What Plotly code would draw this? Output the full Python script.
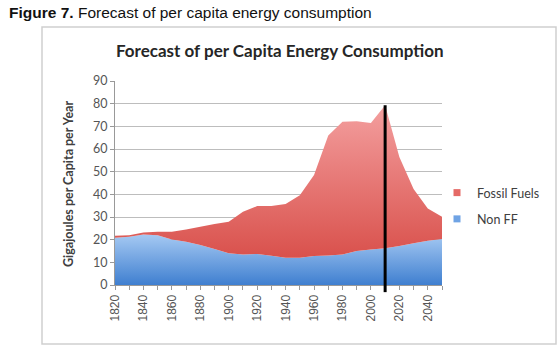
import plotly.graph_objects as go

years = list(range(1820, 2051, 10))
non_ff = [20.9, 21.3, 22.3, 22.0, 20.1, 19.1, 17.6, 15.9, 14.0, 13.5, 13.7, 12.9,
          12.0, 12.0, 12.8, 13.0, 13.5, 15.0, 15.7, 16.2, 17.2, 18.4, 19.5, 20.3]
total = [21.7, 22.0, 23.2, 23.5, 23.5, 24.5, 25.7, 26.9, 27.9, 32.3, 34.8, 34.8,
         35.7, 39.6, 48.5, 66.0, 72.0, 72.2, 71.5, 79.3, 56.5, 42.3, 33.8, 30.1]
fossil = [round(t - n, 2) for t, n in zip(total, non_ff)]
tick_years = list(range(1820, 2041, 20))
marker_year = 2010
y_max = 90

L, R, T, B = 115, 118, 81, 65
W, H = 560, 350
pw, ph = W - L - R, H - T - B

def px_x(p):
    return (p - L) / pw

def px_y(p):
    return (H - B - p) / ph

fig = go.Figure()
fig.add_trace(go.Scatter(
    x=years, y=non_ff, name="Non FF", stackgroup="one", mode="none", showlegend=False,
    fillgradient=dict(type="vertical", start=0, stop=22,
                      colorscale=[[0, "#3f7fd0"], [1, "#a4c8f2"]]),
    fillcolor="#6fa3e4",
))
fig.add_trace(go.Scatter(
    x=years, y=fossil, name="Fossil Fuels", stackgroup="one", mode="none", showlegend=False,
    fillgradient=dict(type="vertical", start=12, stop=80,
                      colorscale=[[0, "#d9514c"], [1, "#f4a0a0"]]),
    fillcolor="#e56a66",
))
# legend entries (small square swatches)
fig.add_trace(go.Scatter(x=[None], y=[None], name="Fossil Fuels", mode="markers", legendgroup="a",
                         marker=dict(symbol="square", size=7, color="#e56a66")))
fig.add_trace(go.Scatter(x=[None], y=[None], name="Non FF", mode="markers", legendgroup="b",
                         marker=dict(symbol="square", size=7, color="#6fa3e4")))

peak = total[years.index(marker_year)]
fig.add_shape(type="line", xref="x", yref="y domain", x0=marker_year, x1=marker_year,
              y0=-0.035, y1=peak / y_max, line=dict(color="black", width=3))

# outer chart frame
fig.add_shape(type="rect", xref="paper", yref="paper",
              x0=px_x(42), x1=px_x(556), y0=px_y(344), y1=px_y(27),
              line=dict(color="#cfcfcf", width=1.5), layer="below")

fig.add_annotation(xref="paper", yref="paper", x=px_x(7), y=px_y(12), xanchor="left",
                   yanchor="middle", showarrow=False,
                   text="<b>Figure 7.</b> Forecast of per capita energy consumption",
                   font=dict(family="Liberation Sans, Arial", size=15.5, color="#111"))
fig.add_annotation(xref="paper", yref="paper", x=px_x(279), y=px_y(50), xanchor="center",
                   yanchor="middle", showarrow=False,
                   text="<b>Forecast of per Capita Energy Consumption</b>",
                   font=dict(family="Lato, Carlito, sans-serif", size=17, color="#262626"))
fig.add_annotation(xref="paper", yref="paper", x=px_x(68), y=px_y(184), xanchor="center",
                   yanchor="middle", showarrow=False, textangle=-90,
                   text="<b>Gigajoules per Capita per Year</b>",
                   font=dict(family="Lato, Carlito, sans-serif", size=12.5, color="#404040"))

fig.update_layout(
    width=W, height=H,
    margin=dict(l=L, r=R, t=T, b=B),
    paper_bgcolor="white", plot_bgcolor="white",
    showlegend=True,
    legend=dict(xref="paper", yref="paper", x=px_x(437), y=px_y(178),
                xanchor="left", yanchor="top",
                traceorder="grouped", font=dict(family="Lato, Carlito, sans-serif",
                                                size=12.5, color="#404040"),
                itemwidth=30, tracegroupgap=7, bgcolor="rgba(0,0,0,0)"),
    xaxis=dict(range=[1820, 2050], tickvals=tick_years, tickangle=-90,
               ticks="outside", ticklen=4, tickcolor="#999", showgrid=False,
               showline=True, linecolor="#999", linewidth=1,
               minor=dict(dtick=10, tick0=1820, ticks="outside", ticklen=4, tickcolor="#999"),
               tickfont=dict(family="Liberation Sans, Arial", size=12, color="#555"),
               zeroline=False),
    yaxis=dict(range=[0, y_max], dtick=10, showgrid=True, gridcolor="#bdbdbd",
               gridwidth=1, ticks="outside", ticklen=4, tickcolor="#999",
               showline=True, linecolor="#999", zeroline=False,
               tickfont=dict(family="Lato, Carlito, sans-serif", size=12.5, color="#555")),
)

fig.write_html("out.html")
